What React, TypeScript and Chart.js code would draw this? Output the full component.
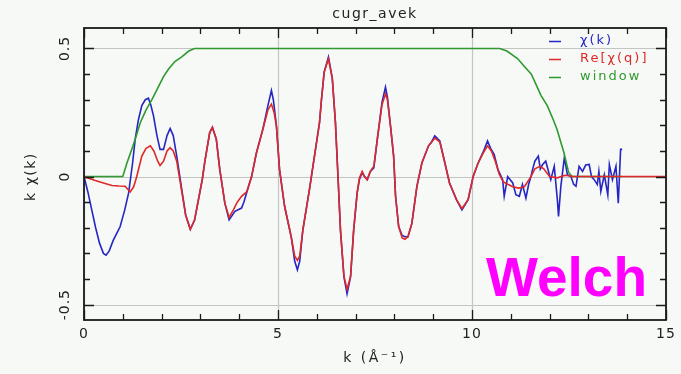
import React, { useEffect, useRef } from "react";
import { Chart, registerables } from "chart.js";

Chart.register(...registerables);

const kBlue = [0, 0.1, 0.2, 0.3, 0.4, 0.5, 0.57, 0.65, 0.75, 0.85, 0.93, 1.05, 1.15, 1.25, 1.32, 1.4, 1.49, 1.58, 1.66, 1.72, 1.79, 1.88, 1.96, 2.05, 2.14, 2.22, 2.3, 2.39, 2.52, 2.62, 2.74, 2.85, 2.95, 3.05, 3.11, 3.24, 3.31, 3.41, 3.5, 3.63, 3.74, 3.89, 4.06, 4.12, 4.19, 4.32, 4.44, 4.61, 4.74, 4.83, 4.88, 4.96, 5.04, 5.17, 5.34, 5.43, 5.5, 5.56, 5.64, 5.81, 5.94, 6.07, 6.12, 6.19, 6.3, 6.4, 6.48, 6.55, 6.61, 6.7, 6.78, 6.87, 6.95, 7.04, 7.1, 7.17, 7.23, 7.3, 7.38, 7.47, 7.56, 7.68, 7.77, 7.82, 7.9, 7.98, 8.03, 8.11, 8.2, 8.27, 8.35, 8.45, 8.58, 8.71, 8.88, 8.95, 9.04, 9.17, 9.3, 9.42, 9.6, 9.74, 9.82, 9.9, 10.03, 10.15, 10.3, 10.4, 10.48, 10.57, 10.67, 10.79, 10.83, 10.92, 11.05, 11.13, 11.22, 11.3, 11.39, 11.46, 11.52, 11.56, 11.62, 11.71, 11.76, 11.82, 11.9, 12.03, 12.12, 12.2, 12.23, 12.29, 12.38, 12.46, 12.55, 12.62, 12.68, 12.76, 12.85, 12.93, 13.02, 13.08, 13.15, 13.23, 13.27, 13.32, 13.41, 13.5, 13.54, 13.62, 13.71, 13.77, 13.83, 13.87];
const chiBlue = [0, -0.06, -0.13, -0.2, -0.26, -0.3, -0.307, -0.29, -0.25, -0.22, -0.196, -0.13, -0.064, 0.05, 0.146, 0.22, 0.277, 0.3, 0.306, 0.28, 0.238, 0.16, 0.106, 0.106, 0.16, 0.188, 0.16, 0.08, -0.051, -0.15, -0.206, -0.17, -0.09, -0.01, 0.054, 0.172, 0.192, 0.146, 0.027, -0.104, -0.169, -0.136, -0.123, -0.1, -0.064, 0.0, 0.09, 0.185, 0.277, 0.336, 0.3, 0.197, 0.027, -0.116, -0.235, -0.33, -0.364, -0.33, -0.209, -0.051, 0.08, 0.211, 0.3, 0.408, 0.467, 0.382, 0.211, -0.012, -0.209, -0.392, -0.458, -0.392, -0.209, -0.064, -0.01, 0.015, 0.0, -0.012, 0.02, 0.034, 0.146, 0.29, 0.349, 0.31, 0.197, 0.08, -0.077, -0.195, -0.23, -0.235, -0.235, -0.183, -0.038, 0.054, 0.12, 0.133, 0.159, 0.139, 0.054, -0.025, -0.09, -0.13, -0.11, -0.09, 0.0, 0.05, 0.1, 0.139, 0.11, 0.087, 0.027, -0.012, -0.077, 0.0, -0.025, -0.071, -0.077, -0.031, -0.084, -0.03, 0.0, 0.027, 0.06, 0.08, 0.03, 0.047, 0.06, -0.012, 0.04, -0.09, -0.156, -0.038, 0.074, 0.007, 0.0, -0.03, -0.038, 0.04, 0.02, 0.045, 0.047, 0.0, -0.012, -0.031, 0.02, -0.058, 0.007, -0.071, 0.047, -0.012, 0.04, -0.104, 0.106, 0.106];

const kRed = [0, 0.29, 0.5, 0.72, 0.9, 1.06, 1.19, 1.28, 1.36, 1.49, 1.6, 1.71, 1.8, 1.9, 1.96, 2.05, 2.14, 2.22, 2.3, 2.39, 2.5, 2.62, 2.74, 2.85, 2.95, 3.05, 3.11, 3.24, 3.31, 3.41, 3.5, 3.63, 3.74, 3.85, 3.95, 4.06, 4.19, 4.32, 4.44, 4.61, 4.74, 4.83, 4.9, 4.96, 5.04, 5.17, 5.34, 5.43, 5.5, 5.56, 5.64, 5.81, 5.94, 6.07, 6.12, 6.19, 6.3, 6.4, 6.48, 6.55, 6.61, 6.7, 6.78, 6.87, 6.95, 7.04, 7.1, 7.17, 7.23, 7.3, 7.38, 7.47, 7.56, 7.68, 7.77, 7.82, 7.9, 7.98, 8.03, 8.11, 8.2, 8.27, 8.35, 8.45, 8.58, 8.71, 8.88, 8.95, 9.04, 9.17, 9.3, 9.42, 9.6, 9.74, 9.9, 10.03, 10.15, 10.3, 10.4, 10.5, 10.6, 10.7, 10.8, 10.92, 11.05, 11.2, 11.35, 11.52, 11.62, 11.75, 11.85, 12.0, 12.2, 12.4, 12.6, 15];
const chiRed = [0, -0.015, -0.025, -0.035, -0.037, -0.038, -0.06, -0.04, 0.0, 0.08, 0.11, 0.12, 0.1, 0.06, 0.043, 0.06, 0.1, 0.113, 0.1, 0.06, -0.04, -0.15, -0.206, -0.17, -0.09, -0.01, 0.054, 0.172, 0.192, 0.146, 0.027, -0.104, -0.16, -0.13, -0.1, -0.077, -0.06, 0.0, 0.09, 0.185, 0.26, 0.283, 0.25, 0.197, 0.027, -0.116, -0.235, -0.31, -0.327, -0.31, -0.209, -0.051, 0.08, 0.211, 0.3, 0.408, 0.46, 0.382, 0.211, -0.012, -0.209, -0.39, -0.44, -0.39, -0.209, -0.064, -0.005, 0.02, 0.0, -0.012, 0.02, 0.04, 0.146, 0.28, 0.323, 0.3, 0.197, 0.08, -0.077, -0.195, -0.24, -0.245, -0.235, -0.183, -0.038, 0.054, 0.12, 0.133, 0.15, 0.135, 0.054, -0.025, -0.09, -0.125, -0.09, 0.0, 0.05, 0.095, 0.12, 0.1, 0.06, 0.01, -0.02, -0.03, -0.04, -0.045, -0.04, 0.0, 0.03, 0.04, 0.03, 0.0, -0.005, 0.005, 0.0, 0.0];

const kWin = [0, 1, 1.1, 1.23, 1.35, 1.45, 1.6, 1.75, 1.9, 2.05, 2.18, 2.35, 2.52, 2.7, 2.85, 10.71, 10.9, 11.18, 11.35, 11.53, 11.78, 11.94, 12.1, 12.19, 12.37, 12.49, 12.58, 13.87];
const winVals = [0, 0, 0.05, 0.106, 0.16, 0.21, 0.26, 0.3, 0.345, 0.39, 0.42, 0.45, 0.467, 0.49, 0.5, 0.5, 0.49, 0.46, 0.43, 0.4, 0.316, 0.277, 0.22, 0.185, 0.093, 0.016, 0, 0];

const xTickLabels = [0, 5, 10, 15];
const yTickLabels = [-0.5, 0, 0.5];
const seriesNames = ["\u03c7(k)", "Re[\u03c7(q)]", "window"];

const BLUE = "#2626c4";
const RED = "#e02828";
const GREEN = "#2f9a2f";
const BG = "#f6f9f5";
const FONT = '"DejaVu Sans", sans-serif';

const decor = {
  id: "decor",
  beforeDraw(chart: any) {
    const ctx = chart.ctx;
    ctx.save();
    ctx.fillStyle = BG;
    ctx.fillRect(0, 0, chart.width, chart.height);
    ctx.restore();
  },
  beforeDatasetsDraw(chart: any) {
    const { ctx, chartArea: a, scales } = chart;
    const xs = scales.x, ys = scales.y;
    ctx.save();
    ctx.strokeStyle = "#c4c4c4";
    ctx.lineWidth = 1.2;
    xTickLabels.forEach((v) => {
      const px = Math.round(xs.getPixelForValue(v)) + 0.5;
      ctx.beginPath(); ctx.moveTo(px, a.top); ctx.lineTo(px, a.bottom); ctx.stroke();
    });
    yTickLabels.forEach((v) => {
      const py = Math.round(ys.getPixelForValue(v)) + 0.5;
      ctx.beginPath(); ctx.moveTo(a.left, py); ctx.lineTo(a.right, py); ctx.stroke();
    });
    ctx.restore();
  },
  afterDatasetsDraw(chart: any) {
    const { ctx, chartArea: a, scales } = chart;
    const xs = scales.x, ys = scales.y;
    ctx.save();
    ctx.strokeStyle = "#1a1a1a";
    ctx.lineWidth = 1.8;
    ctx.strokeRect(a.left, a.top, a.right - a.left, a.bottom - a.top);
    ctx.lineWidth = 1.3;
    for (let v = 0; v <= 15; v++) {
      const px = Math.round(xs.getPixelForValue(v)) + 0.5;
      const len = v % 5 === 0 ? 10 : 6;
      ctx.beginPath();
      ctx.moveTo(px, a.bottom); ctx.lineTo(px, a.bottom - len);
      ctx.moveTo(px, a.top); ctx.lineTo(px, a.top + len);
      ctx.stroke();
    }
    for (let i = -5; i <= 5; i++) {
      const v = i / 10;
      const py = Math.round(ys.getPixelForValue(v)) + 0.5;
      const len = i % 5 === 0 ? 10 : 6;
      ctx.beginPath();
      ctx.moveTo(a.left, py); ctx.lineTo(a.left + len, py);
      ctx.moveTo(a.right, py); ctx.lineTo(a.right - len, py);
      ctx.stroke();
    }
    ctx.fillStyle = "#222";
    ctx.font = `14px ${FONT}`;
    ctx.textAlign = "center";
    ctx.textBaseline = "middle";
    (ctx as any).letterSpacing = "1px";
    xTickLabels.forEach((v) => {
      ctx.fillText(String(v), xs.getPixelForValue(v), 334);
    });
    yTickLabels.forEach((v) => {
      ctx.save();
      ctx.translate(65, ys.getPixelForValue(v));
      ctx.rotate(-Math.PI / 2);
      ctx.fillText(v === 0 ? "0" : String(v), 0, 0);
      ctx.restore();
    });
    (ctx as any).letterSpacing = "1.5px";
    ctx.fillText("cugr_avek", (a.left + a.right) / 2, 14);
    (ctx as any).letterSpacing = "2.5px";
    ctx.fillText("k (\u00c5\u207b\u00b9)", (a.left + a.right) / 2, 358);
    ctx.save();
    ctx.translate(31, ys.getPixelForValue(0));
    ctx.rotate(-Math.PI / 2);
    (ctx as any).letterSpacing = "1.5px";
    ctx.fillText("k \u03c7(k)", 0, 0);
    ctx.restore();
    const cols = [BLUE, RED, GREEN];
    const rows = [41, 59, 77];
    ctx.textAlign = "left";
    ctx.font = `13px ${FONT}`;
    (ctx as any).letterSpacing = "2px";
    seriesNames.forEach((n, i) => {
      ctx.strokeStyle = cols[i];
      ctx.lineWidth = 1.5;
      ctx.beginPath(); ctx.moveTo(549, rows[i] + 0.5); ctx.lineTo(561, rows[i] + 0.5); ctx.stroke();
      ctx.fillStyle = cols[i];
      ctx.fillText(n, 580, rows[i]);
    });
    (ctx as any).letterSpacing = "0px";
    ctx.fillStyle = "#ff00ff";
    ctx.font = `bold 55px "Liberation Sans", Arial, sans-serif`;
    ctx.textBaseline = "alphabetic";
    ctx.fillText("Welch", 486, 296);
    ctx.restore();
  },
};

export default function App() {
  const ref = useRef<HTMLCanvasElement>(null);
  useEffect(() => {
    document.body.style.margin = "0";
    document.body.style.background = BG;
    const mk = (ks: number[], vs: number[]) => ks.map((k, i) => ({ x: k, y: vs[i] }));
    const chart = new Chart(ref.current!, {
      type: "line",
      data: {
        datasets: [
          { label: seriesNames[0], data: mk(kBlue, chiBlue), borderColor: BLUE, borderWidth: 1.6, pointRadius: 0, order: 2 },
          { label: seriesNames[1], data: mk(kRed, chiRed), borderColor: RED, borderWidth: 1.6, pointRadius: 0, order: 0 },
          { label: seriesNames[2], data: mk(kWin, winVals), borderColor: GREEN, borderWidth: 1.6, pointRadius: 0, order: 1 },
        ],
      },
      options: {
        responsive: false,
        animation: false,
        events: [],
        layout: { padding: { left: 84, right: 15, top: 28, bottom: 54 } },
        plugins: { legend: { display: false }, tooltip: { enabled: false }, title: { display: false } },
        scales: {
          x: { type: "linear", min: 0, max: 15, display: false },
          y: { type: "linear", min: -0.56, max: 0.58, display: false },
        },
      },
      plugins: [decor],
    });
    return () => chart.destroy();
  }, []);
  return (
    <div style={{ position: "absolute", left: 0, top: 0, width: 681, height: 374 }}>
      <canvas ref={ref} width={681} height={374} />
    </div>
  );
}
